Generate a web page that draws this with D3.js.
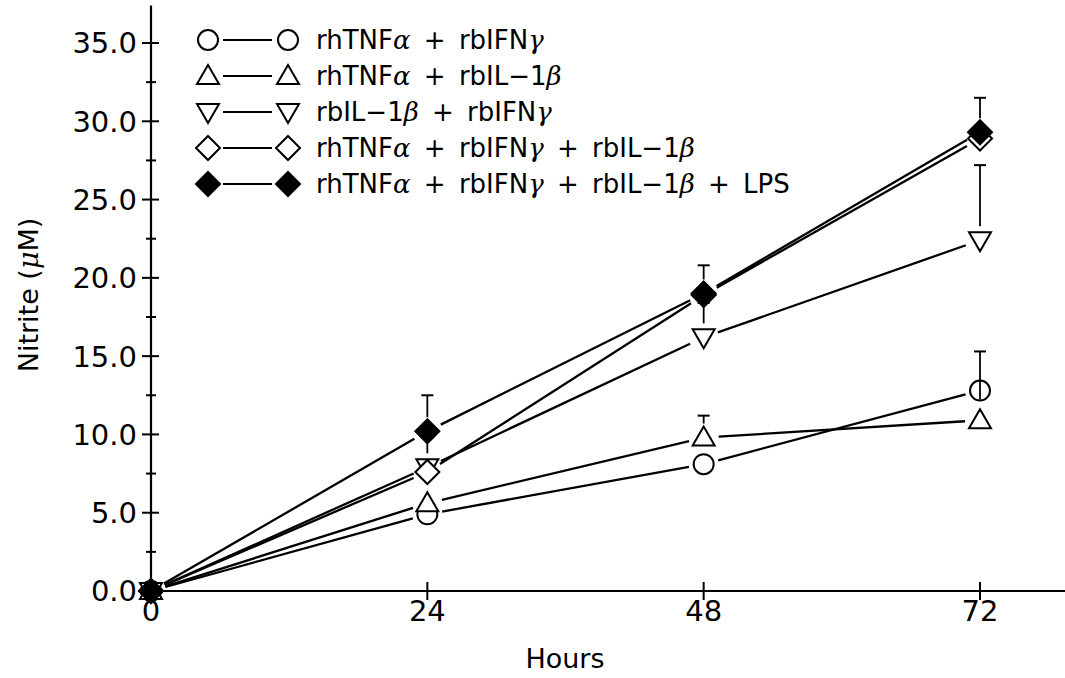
<!DOCTYPE html>
<html>
<head>
<meta charset="utf-8">
<script src="https://cdn.jsdelivr.net/npm/d3@7"></script>
<style>
  body { margin: 0; background: #fff; }
  svg { display: block; }
  text { font-family: 'DejaVu Sans', 'Liberation Sans', sans-serif; fill: #000; }
</style>
</head>
<body>
<div id="chart"></div>
<script>
// hours sampled
const hours = [0, 24, 48, 72]

// nitrite (uM) per treatment
const circleValues = [0, 4.9, 8.1, 12.8]
const triangleValues = [0, 5.6, 9.8, 10.9]
const downTriangleValues = [0, 7.9, 16.2, 22.4]
const openDiamondValues = [0, 7.6, 18.9, 28.9]
const filledDiamondValues = [0, 10.2, 19.0, 29.3]

// upper error bar ends (null = none drawn)
const circleErrors = [null, null, null, 15.3]
const triangleErrors = [null, null, 11.2, null]
const downTriangleErrors = [null, 9.8, 18.4, 27.2]
const openDiamondErrors = [null, null, null, null]
const filledDiamondErrors = [null, 12.5, 20.8, 31.5]

const yTicks = [0, 5, 10, 15, 20, 25, 30, 35]
const yMinorTicks = [2.5, 7.5, 12.5, 17.5, 22.5, 27.5, 32.5]
const xTicks = [0, 24, 48, 72]

const seriesShapes = ['circle', 'triangle', 'down', 'diamond', 'filled']
const legendLabels = [
  [['rhTNF', 0], ['α', 1], [' + rbIFN', 0], ['γ', 1]],
  [['rhTNF', 0], ['α', 1], [' + rbIL−1', 0], ['β', 1]],
  [['rbIL−1', 0], ['β', 1], [' + rbIFN', 0], ['γ', 1]],
  [['rhTNF', 0], ['α', 1], [' + rbIFN', 0], ['γ', 1], [' + rbIL−1', 0], ['β', 1]],
  [['rhTNF', 0], ['α', 1], [' + rbIFN', 0], ['γ', 1], [' + rbIL−1', 0], ['β', 1], [' + LPS', 0]]
]

const series = [
  { shape: 'circle', values: circleValues, errors: circleErrors },
  { shape: 'triangle', values: triangleValues, errors: triangleErrors },
  { shape: 'down', values: downTriangleValues, errors: downTriangleErrors },
  { shape: 'diamond', values: openDiamondValues, errors: openDiamondErrors },
  { shape: 'filled', values: filledDiamondValues, errors: filledDiamondErrors }
]

const width = 1065
const height = 678
const origin = { x: 151, y: 591 }

const xScale = d3.scaleLinear()
    .domain([0, 72])
    .range([origin.x, 980])

const yScale = d3.scaleLinear()
    .domain([0, 35])
    .range([origin.y, 43])

const svg = d3.select('#chart').append('svg')
    .attr('width', width)
    .attr('height', height)

function circlePath(r) {
  const p = d3.path()
  p.arc(0, 0, r, 0, Math.PI * 2)
  p.closePath()
  return p.toString()
}

// marker paths centred on 0,0
function markerPath(shape) {
  if (shape === 'circle') return circlePath(10)
  if (shape === 'triangle') return 'M0,-11 L11,8 L-11,8 Z'
  if (shape === 'down') return 'M0,11 L11,-8 L-11,-8 Z'
  return 'M0,-12 L12,0 L0,12 L-12,0 Z'
}

function drawMarker(g, shape, x, y) {
  g.append('path')
      .attr('d', markerPath(shape))
      .attr('transform', `translate(${x}, ${y})`)
      .attr('fill', shape === 'filled' ? '#000' : '#fff')
      .attr('stroke', '#000')
      .attr('stroke-width', 2)
}

const gap = 15

// connecting lines, stopped short of markers
series.forEach(s => {
  const pts = hours.map((h, i) => [xScale(h), yScale(s.values[i])])
  for (let i = 0; i < pts.length - 1; i++) {
    const [x1, y1] = pts[i]
    const [x2, y2] = pts[i + 1]
    const len = Math.hypot(x2 - x1, y2 - y1)
    const ux = (x2 - x1) / len
    const uy = (y2 - y1) / len
    svg.append('line')
        .attr('x1', x1 + ux * gap)
        .attr('y1', y1 + uy * gap)
        .attr('x2', x2 - ux * gap)
        .attr('y2', y2 - uy * gap)
        .attr('stroke', '#000')
        .attr('stroke-width', 2.3)
  }
})

// error bars (upper only); circle bars run through the marker, so they go on top later
function drawErrors(s) {
  hours.forEach((h, i) => {
    const top = s.errors[i]
    if (top === null) return
    const x = xScale(h)
    const start = s.shape === 'circle' ? yScale(s.values[i]) + 9 : yScale(s.values[i]) - 14
    svg.append('line')
        .attr('x1', x).attr('x2', x)
        .attr('y1', start)
        .attr('y2', yScale(top))
        .attr('stroke', '#000')
        .attr('stroke-width', 1.8)
    svg.append('line')
        .attr('x1', x - 6).attr('x2', x + 6)
        .attr('y1', yScale(top)).attr('y2', yScale(top))
        .attr('stroke', '#000')
        .attr('stroke-width', 2)
  })
}
series.filter(s => s.shape !== 'circle').forEach(drawErrors)

// axes
const yAxis = svg.append('g')
yAxis.append('line')
    .attr('x1', origin.x).attr('x2', origin.x)
    .attr('y1', origin.y).attr('y2', yScale(37.4))
    .attr('stroke', '#000').attr('stroke-width', 2.2)

yAxis.selectAll('.major')
    .data(yTicks).enter()
  .append('line')
    .attr('x1', origin.x - 9).attr('x2', origin.x + 8)
    .attr('y1', d => yScale(d)).attr('y2', d => yScale(d))
    .attr('stroke', '#000').attr('stroke-width', 2)

yAxis.selectAll('.minor')
    .data(yMinorTicks).enter()
  .append('line')
    .attr('x1', origin.x - 5).attr('x2', origin.x + 5)
    .attr('y1', d => yScale(d)).attr('y2', d => yScale(d))
    .attr('stroke', '#000').attr('stroke-width', 2)

yAxis.selectAll('text')
    .data(yTicks).enter()
  .append('text')
    .attr('x', origin.x - 14)
    .attr('y', d => yScale(d))
    .attr('dy', '0.36em')
    .attr('text-anchor', 'end')
    .attr('font-size', 29)
    .text(d => d.toFixed(1))

const xAxis = svg.append('g')
xAxis.append('line')
    .attr('x1', origin.x).attr('x2', width)
    .attr('y1', origin.y).attr('y2', origin.y)
    .attr('stroke', '#000').attr('stroke-width', 2.2)

xAxis.selectAll('.major')
    .data(xTicks).enter()
  .append('line')
    .attr('x1', d => xScale(d)).attr('x2', d => xScale(d))
    .attr('y1', origin.y - 9).attr('y2', origin.y + 9)
    .attr('stroke', '#000').attr('stroke-width', 2)

xAxis.selectAll('text')
    .data(xTicks).enter()
  .append('text')
    .attr('x', d => xScale(d))
    .attr('y', origin.y + 30)
    .attr('text-anchor', 'middle')
    .attr('font-size', 29)
    .text(d => d)

svg.append('text')
    .attr('x', 565)
    .attr('y', 668)
    .attr('text-anchor', 'middle')
    .attr('font-size', 27)
    .text('Hours')

const yTitle = svg.append('text')
    .attr('transform', 'translate(38, 295) rotate(-90)')
    .attr('text-anchor', 'middle')
    .attr('font-size', 27)
yTitle.append('tspan').text('Nitrite  (')
yTitle.append('tspan').attr('font-style', 'italic').attr('font-family', 'DejaVu Serif').text('μ')
yTitle.append('tspan').text('M)')

// markers
const markers = svg.append('g')
series.forEach(s => {
  hours.forEach((h, i) => drawMarker(markers, s.shape, xScale(h), yScale(s.values[i])))
})
series.filter(s => s.shape === 'circle').forEach(drawErrors)

// legend
const legend = svg.append('g')
const legendTop = 40
const legendStep = 36
seriesShapes.forEach((shape, i) => {
  const y = legendTop + i * legendStep
  drawMarker(legend, shape, 208, y)
  legend.append('line')
      .attr('x1', 223).attr('x2', 272)
      .attr('y1', y).attr('y2', y)
      .attr('stroke', '#000').attr('stroke-width', 2)
  drawMarker(legend, shape, 288, y)
  const t = legend.append('text')
      .attr('x', 316)
      .attr('y', y)
      .attr('dy', '0.36em')
      .attr('font-size', 26)
      .attr('word-spacing', 5)
  legendLabels[i].forEach(([str, greek]) => {
    const sp = t.append('tspan').text(str)
    if (greek) sp.attr('font-style', 'italic').attr('font-family', 'DejaVu Serif')
  })
})
</script>
</body>
</html>
